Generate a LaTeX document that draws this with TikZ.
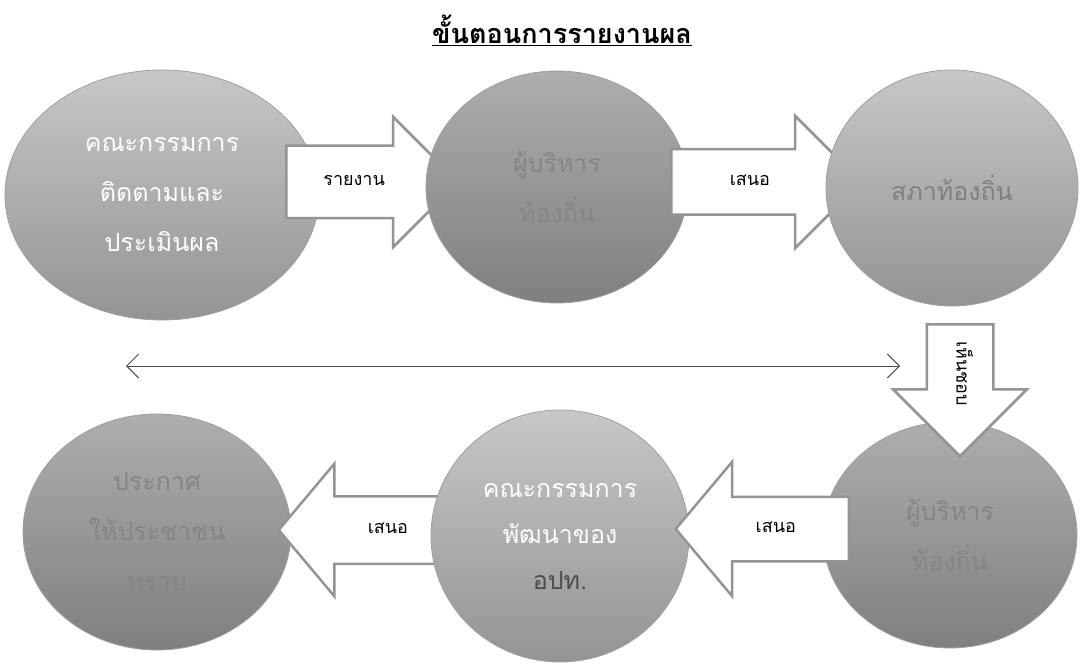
\documentclass[tikz,border=0pt]{standalone}
\usepackage{fontspec}
\setmainfont[Script=Thai]{Loma}
\usetikzlibrary{shapes.geometric,shapes.arrows,arrows.meta}
\definecolor{bubbletop}{gray}{0.78}
\definecolor{bubblebottom}{gray}{0.58}
\definecolor{darktop}{gray}{0.68}
\definecolor{darkbottom}{gray}{0.50}
\definecolor{faint}{gray}{0.52}
\definecolor{midtext}{gray}{0.50}
\definecolor{arrowrim}{gray}{0.58}

\begin{document}
\begin{tikzpicture}[x=1pt, y=-1pt,
    every node/.style = {inner sep=0pt, align=center},
    bubble/.style = {shape=ellipse, draw=gray!75, line width=0.8pt,
      top color=bubbletop, bottom color=bubblebottom,
      font=\fontsize{25}{50}\selectfont},
    darkbubble/.style = {bubble, top color=darktop, bottom color=darkbottom,
      text=faint},
    bigarrow/.style = {shape=single arrow, draw=arrowrim, line width=2.5pt,
      fill=white, font=\fontsize{18}{20}\selectfont,
      text height=10pt, text depth=3pt, anchor=tail},
    link/.style = {draw=black!70, line width=0.9pt,
      {Straight Barb[length=12pt,width=24pt]}-{Straight Barb[length=12pt,width=24pt]}}]
  \useasboundingbox (0,0) rectangle (1080,666);

  \node[font=\bfseries\fontsize{27}{30}\selectfont] (title) at (562,30)
    {\underline{ขั้นตอนการรายงานผล}};

  % top row
  \node[bubble, minimum width=314, minimum height=250, text=white] (monitor) at (162,195)
    {คณะกรรมการ\\ติดตามและ\\ประเมินผล};
  \node[bigarrow, minimum height=172, inner ysep=28.5pt,
    single arrow head extend=29pt] (report) at (285,182) {รายงาน};
  \node[darkbubble, minimum width=262, minimum height=232] (exec) at (557,187)
    {ผู้บริหาร\\ท้องถิ่น};
  \node[bigarrow, minimum height=190, inner ysep=25pt,
    single arrow head extend=33.5pt] (propose) at (670,182) {เสนอ};
  \node[bubble, minimum width=252, minimum height=236, text=midtext] (council) at (952,188)
    {สภาท้องถิ่น};

  % line between the rows
  \coordinate (lft) at (126,366);
  \coordinate (rgt) at (900,366);
  \draw[link] (lft) -- (rgt);

  % bottom row
  \node[darkbubble, minimum width=268, minimum height=236] (public) at (157,532)
    {ประกาศ\\ให้ประชาชน\\ทราบ};
  \node[bigarrow, minimum height=190, inner ysep=26pt, shape border rotate=180,
    single arrow head extend=32.5pt, single arrow tip angle=100] (toPublic) at (470,530) {เสนอ};
  \node[bubble, minimum width=258, minimum height=252, text=white,
    font=\fontsize{25}{46}\selectfont] (devcom) at (560,536)
    {คณะกรรมการ\\พัฒนาของ\\\textcolor{gray!60!black}{อปท.}};
  \node[darkbubble, minimum width=254, minimum height=226] (exec2) at (950,535)
    {ผู้บริหาร\\ท้องถิ่น};
  \node[bigarrow, minimum height=173, inner ysep=24.5pt, shape border rotate=180,
    single arrow head extend=35pt, single arrow tip angle=100] (toDev) at (850,529) {เสนอ};
  \node[bigarrow, minimum height=132, inner ysep=25.5pt, rotate=-90,
    single arrow head extend=33.5pt] (approve) at (960,323) {เห็นชอบ};
\end{tikzpicture}
\end{document}
